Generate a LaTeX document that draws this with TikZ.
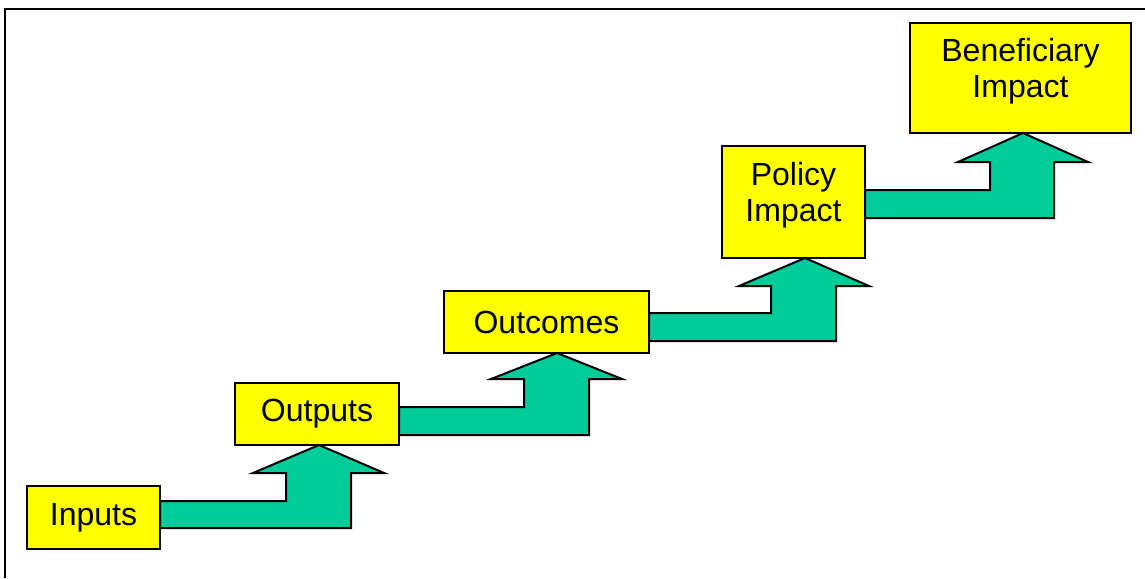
\documentclass[tikz,border=0pt]{standalone}
\usepackage{fontspec}
\setmainfont{Liberation Sans}
\usetikzlibrary{backgrounds}
\definecolor{flowgreen}{HTML}{00CC99}
\definecolor{boxyellow}{HTML}{FFFF00}
\begin{document}
\begin{tikzpicture}[x=1pt,y=-1pt,
  stagefont/.style={font=\fontsize{32}{36}\selectfont, align=center},
  stagebox/.style={draw=black, line width=2pt, fill=boxyellow, inner sep=0pt, outer sep=0pt, stagefont},
  twoline/.style={label={[stagefont, inner sep=0pt, yshift=7pt]center:#1}},
  flow/.style={draw=black, line width=2pt, fill=flowgreen, line join=miter},
  frame/.style={draw=black, line width=2pt}]
\useasboundingbox (0,0) rectangle (1145,578);

\node[stagebox, minimum width=133pt, minimum height=63pt] (in) at (93.5,517.5) {Inputs};
\node[stagebox, minimum width=164pt, minimum height=62pt] (out) at (317,414) {Outputs};
\node[stagebox, minimum width=205pt, minimum height=62pt] (outc) at (546.5,322) {Outcomes};
\node[stagebox, minimum width=143pt, minimum height=112pt, twoline={Policy\\Impact}] (pol) at (793.5,202) {};
\node[stagebox, minimum width=221pt, minimum height=110pt, twoline={Beneficiary\\Impact}] (ben) at (1020.5,78) {};

\begin{scope}[on background layer]
  \draw[frame] (5,578) -- (5,9) -- (1145,9);
  \draw[flow] (in.east |- 0,501) -- (286,501) -- (286,473) -- (253,473) -- (319,0 |- out.south)
    -- (384,473) -- (351,473) -- (351,528) -- (in.east |- 0,528) -- cycle;
  \draw[flow] (out.east |- 0,407) -- (524,407) -- (524,379) -- (491,379) -- (557,0 |- outc.south)
    -- (622,379) -- (589,379) -- (589,435) -- (out.east |- 0,435) -- cycle;
  \draw[flow] (outc.east |- 0,313) -- (771,313) -- (771,286) -- (739,286) -- (805,0 |- pol.south)
    -- (869,286) -- (836,286) -- (836,341) -- (outc.east |- 0,341) -- cycle;
  \draw[flow] (pol.east |- 0,190) -- (990,190) -- (990,162) -- (958,162) -- (1023,0 |- ben.south)
    -- (1088,162) -- (1054,162) -- (1054,218) -- (pol.east |- 0,218) -- cycle;
\end{scope}
\end{tikzpicture}
\end{document}
